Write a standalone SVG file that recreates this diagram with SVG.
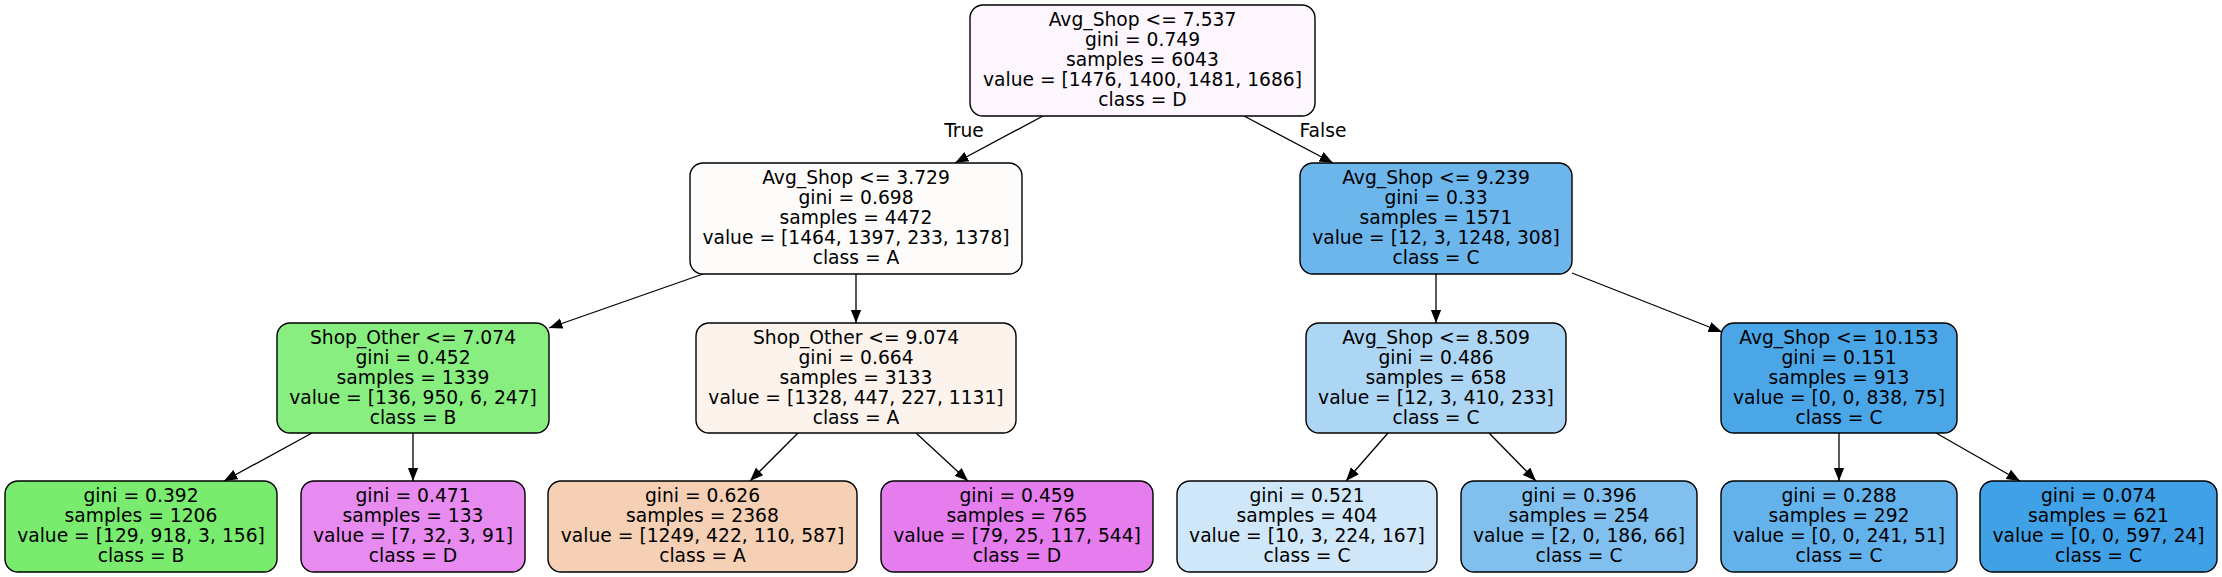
<svg xmlns="http://www.w3.org/2000/svg" width="2222" height="577" viewBox="0 0 2222 577">
<style>
.n rect{stroke:#000;stroke-width:1.4}
text{font-family:"DejaVu Sans","Liberation Sans",sans-serif;font-size:18.7px;fill:#000;text-anchor:middle}
.e line{stroke:#000;stroke-width:1.3}
</style>
<defs>
<marker id="ah" markerUnits="userSpaceOnUse" markerWidth="15" markerHeight="12" refX="13.5" refY="5.3" orient="auto" viewBox="0 0 15 12">
<path d="M0,0 L13.5,5.3 L0,10.6 Z" fill="#000"/>
</marker>
</defs>
<rect width="2222" height="577" fill="#fff"/>
<g id="edges" class="e">
<line x1="1043" y1="116" x2="955" y2="163" marker-end="url(#ah)"/>
<line x1="1244" y1="116" x2="1333" y2="163" marker-end="url(#ah)"/>
<line x1="703" y1="274" x2="549" y2="328" marker-end="url(#ah)"/>
<line x1="856" y1="274" x2="856" y2="323" marker-end="url(#ah)"/>
<line x1="1436" y1="274" x2="1436" y2="323" marker-end="url(#ah)"/>
<line x1="1572" y1="273" x2="1722" y2="332" marker-end="url(#ah)"/>
<line x1="312" y1="433" x2="224" y2="481" marker-end="url(#ah)"/>
<line x1="413" y1="433" x2="413" y2="481" marker-end="url(#ah)"/>
<line x1="798" y1="433" x2="750" y2="481" marker-end="url(#ah)"/>
<line x1="916" y1="433" x2="968" y2="481" marker-end="url(#ah)"/>
<line x1="1388" y1="433" x2="1346" y2="481" marker-end="url(#ah)"/>
<line x1="1489" y1="433" x2="1536" y2="481" marker-end="url(#ah)"/>
<line x1="1839" y1="433" x2="1839" y2="481" marker-end="url(#ah)"/>
<line x1="1936" y1="433" x2="2020" y2="481" marker-end="url(#ah)"/>
<text x="964" y="137">True</text>
<text x="1323" y="137">False</text>
</g>
<g id="n0" class="n">
<rect x="970" y="5" width="345" height="111" rx="13" fill="#fdf6fe"/>
<text x="1142.5" y="26">Avg_Shop &lt;= 7.537</text>
<text x="1142.5" y="46">gini = 0.749</text>
<text x="1142.5" y="66">samples = 6043</text>
<text x="1142.5" y="86">value = [1476, 1400, 1481, 1686]</text>
<text x="1142.5" y="106">class = D</text>
</g>
<g id="n1" class="n">
<rect x="690" y="163" width="332" height="111" rx="13" fill="#fefcfb"/>
<text x="856" y="184">Avg_Shop &lt;= 3.729</text>
<text x="856" y="204">gini = 0.698</text>
<text x="856" y="224">samples = 4472</text>
<text x="856" y="244">value = [1464, 1397, 233, 1378]</text>
<text x="856" y="264">class = A</text>
</g>
<g id="n8" class="n">
<rect x="1300" y="163" width="272" height="111" rx="13" fill="#6cb6ec"/>
<text x="1436" y="184">Avg_Shop &lt;= 9.239</text>
<text x="1436" y="204">gini = 0.33</text>
<text x="1436" y="224">samples = 1571</text>
<text x="1436" y="244">value = [12, 3, 1248, 308]</text>
<text x="1436" y="264">class = C</text>
</g>
<g id="n2" class="n">
<rect x="277" y="323" width="272" height="110" rx="13" fill="#89ee80"/>
<text x="413" y="344">Shop_Other &lt;= 7.074</text>
<text x="413" y="364">gini = 0.452</text>
<text x="413" y="384">samples = 1339</text>
<text x="413" y="404">value = [136, 950, 6, 247]</text>
<text x="413" y="424">class = B</text>
</g>
<g id="n5" class="n">
<rect x="696" y="323" width="320" height="110" rx="13" fill="#fcf3ec"/>
<text x="856" y="344">Shop_Other &lt;= 9.074</text>
<text x="856" y="364">gini = 0.664</text>
<text x="856" y="384">samples = 3133</text>
<text x="856" y="404">value = [1328, 447, 227, 1131]</text>
<text x="856" y="424">class = A</text>
</g>
<g id="n9" class="n">
<rect x="1306" y="323" width="260" height="110" rx="13" fill="#add6f4"/>
<text x="1436" y="344">Avg_Shop &lt;= 8.509</text>
<text x="1436" y="364">gini = 0.486</text>
<text x="1436" y="384">samples = 658</text>
<text x="1436" y="404">value = [12, 3, 410, 233]</text>
<text x="1436" y="424">class = C</text>
</g>
<g id="n12" class="n">
<rect x="1721" y="323" width="236" height="110" rx="13" fill="#4ba6e7"/>
<text x="1839" y="344">Avg_Shop &lt;= 10.153</text>
<text x="1839" y="364">gini = 0.151</text>
<text x="1839" y="384">samples = 913</text>
<text x="1839" y="404">value = [0, 0, 838, 75]</text>
<text x="1839" y="424">class = C</text>
</g>
<g id="n3" class="n">
<rect x="5" y="481" width="272" height="91" rx="13" fill="#79ec6f"/>
<text x="141" y="502">gini = 0.392</text>
<text x="141" y="522">samples = 1206</text>
<text x="141" y="542">value = [129, 918, 3, 156]</text>
<text x="141" y="562">class = B</text>
</g>
<g id="n4" class="n">
<rect x="301" y="481" width="224" height="91" rx="13" fill="#e88bf0"/>
<text x="413" y="502">gini = 0.471</text>
<text x="413" y="522">samples = 133</text>
<text x="413" y="542">value = [7, 32, 3, 91]</text>
<text x="413" y="562">class = D</text>
</g>
<g id="n6" class="n">
<rect x="548" y="481" width="309" height="91" rx="13" fill="#f5d0b5"/>
<text x="702.5" y="502">gini = 0.626</text>
<text x="702.5" y="522">samples = 2368</text>
<text x="702.5" y="542">value = [1249, 422, 110, 587]</text>
<text x="702.5" y="562">class = A</text>
</g>
<g id="n7" class="n">
<rect x="881" y="481" width="272" height="91" rx="13" fill="#e57dee"/>
<text x="1017" y="502">gini = 0.459</text>
<text x="1017" y="522">samples = 765</text>
<text x="1017" y="542">value = [79, 25, 117, 544]</text>
<text x="1017" y="562">class = D</text>
</g>
<g id="n10" class="n">
<rect x="1177" y="481" width="260" height="91" rx="13" fill="#cfe7f9"/>
<text x="1307" y="502">gini = 0.521</text>
<text x="1307" y="522">samples = 404</text>
<text x="1307" y="542">value = [10, 3, 224, 167]</text>
<text x="1307" y="562">class = C</text>
</g>
<g id="n11" class="n">
<rect x="1461" y="481" width="236" height="91" rx="13" fill="#81c0ee"/>
<text x="1579" y="502">gini = 0.396</text>
<text x="1579" y="522">samples = 254</text>
<text x="1579" y="542">value = [2, 0, 186, 66]</text>
<text x="1579" y="562">class = C</text>
</g>
<g id="n13" class="n">
<rect x="1721" y="481" width="236" height="91" rx="13" fill="#63b2eb"/>
<text x="1839" y="502">gini = 0.288</text>
<text x="1839" y="522">samples = 292</text>
<text x="1839" y="542">value = [0, 0, 241, 51]</text>
<text x="1839" y="562">class = C</text>
</g>
<g id="n14" class="n">
<rect x="1980" y="481" width="237" height="91" rx="13" fill="#41a1e6"/>
<text x="2098.5" y="502">gini = 0.074</text>
<text x="2098.5" y="522">samples = 621</text>
<text x="2098.5" y="542">value = [0, 0, 597, 24]</text>
<text x="2098.5" y="562">class = C</text>
</g>
</svg>
